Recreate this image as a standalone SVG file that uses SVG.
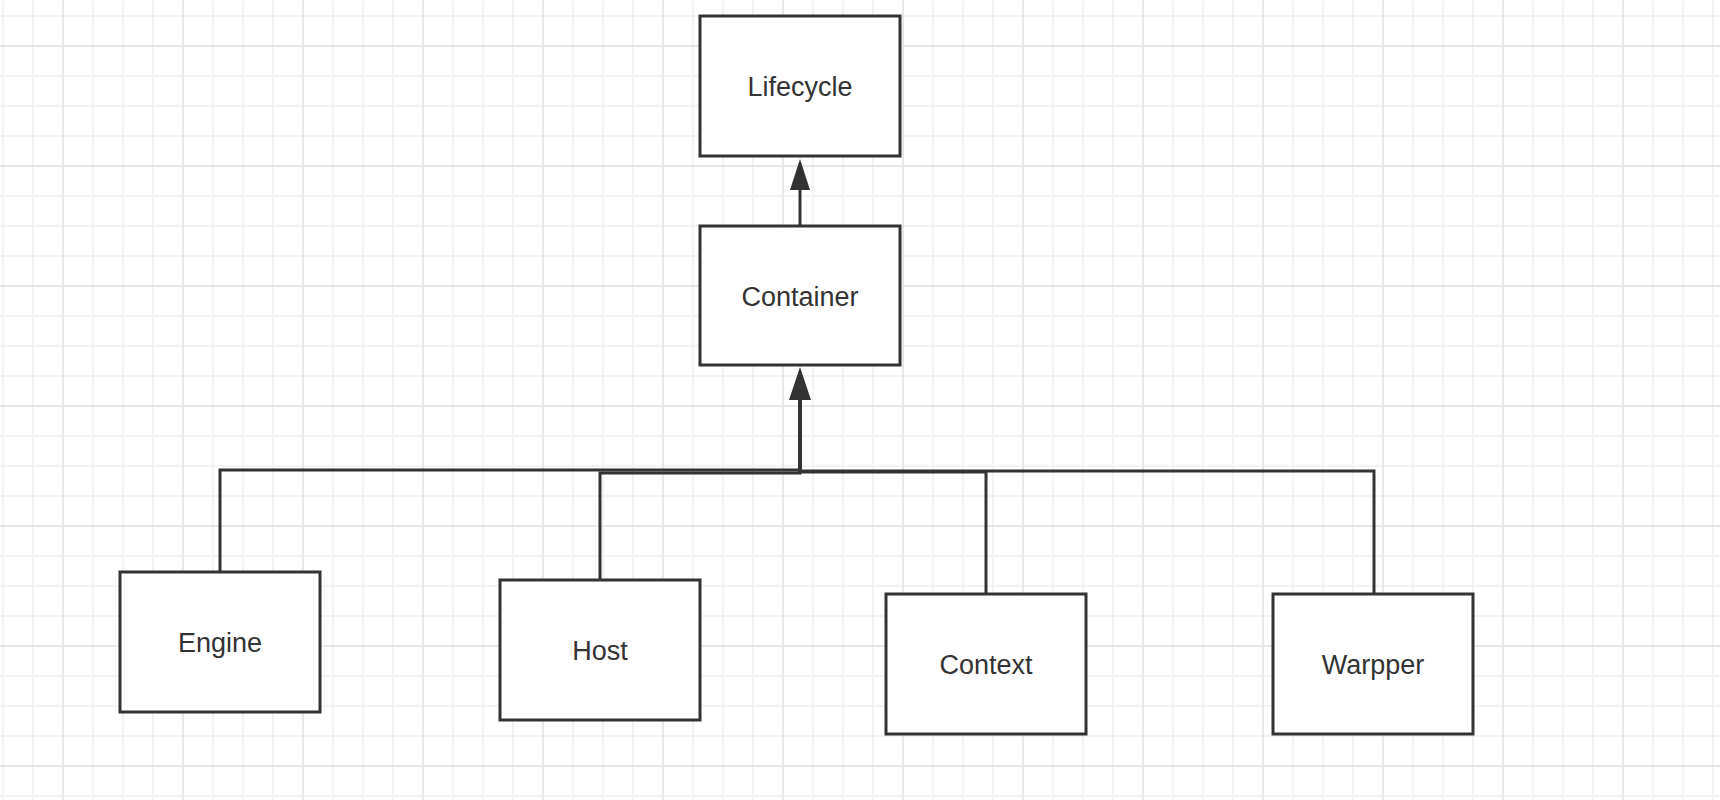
<svg xmlns="http://www.w3.org/2000/svg" width="1720" height="800" viewBox="0 0 1720 800">
  <style>
    .box { fill: #ffffff; stroke: #333333; stroke-width: 3; }
    .lbl { font-family: "Liberation Sans", Arial, sans-serif; font-size: 27px; fill: #333333; text-anchor: middle; }
    .edge { fill: none; stroke: #333333; stroke-width: 3; stroke-linejoin: miter; }
    .minor { stroke: #f3f3f3; stroke-width: 2; }
    .major { stroke: #e7e7e7; stroke-width: 2; }
  </style>
  <defs>
    <pattern id="grid" patternUnits="userSpaceOnUse" x="-12" y="1" width="120" height="120">
      <path class="minor" d="M15 0V120M45 0V120M105 0V120M0 15H120M0 75H120M0 105H120"/>
      <path class="major" d="M75 0V120M0 45H120"/>
    </pattern>
  </defs>
  <rect x="0" y="0" width="1720" height="800" fill="#ffffff"/>
  <rect x="0" y="0" width="1720" height="800" fill="url(#grid)"/>

  <g id="connectors">
    <path class="edge" d="M800 226 V190"/>
    <path d="M800 159 L810 190 L790 190 Z" fill="#333333"/>
    <path class="edge" d="M220 572 V470 H800 V400"/>
    <path class="edge" d="M600 580 V473 H800 V400"/>
    <path class="edge" d="M986 594 V472 H800 V400"/>
    <path class="edge" d="M1374 594 V471 H800 V400"/>
    <path class="edge" d="M800 472 V400" style="stroke-width:4"/>
    <path d="M800 367 L811 400 L789 400 Z" fill="#333333"/>
  </g>

  <g id="lifecycle">
    <rect class="box" x="700" y="16" width="200" height="140"/>
    <text class="lbl" x="800" y="96">Lifecycle</text>
  </g>
  <g id="container">
    <rect class="box" x="700" y="226" width="200" height="139"/>
    <text class="lbl" x="800" y="306">Container</text>
  </g>
  <g id="engine">
    <rect class="box" x="120" y="572" width="200" height="140"/>
    <text class="lbl" x="220" y="652">Engine</text>
  </g>
  <g id="host">
    <rect class="box" x="500" y="580" width="200" height="140"/>
    <text class="lbl" x="600" y="660">Host</text>
  </g>
  <g id="context">
    <rect class="box" x="886" y="594" width="200" height="140"/>
    <text class="lbl" x="986" y="674">Context</text>
  </g>
  <g id="warpper">
    <rect class="box" x="1273" y="594" width="200" height="140"/>
    <text class="lbl" x="1373" y="674">Warpper</text>
  </g>
</svg>
